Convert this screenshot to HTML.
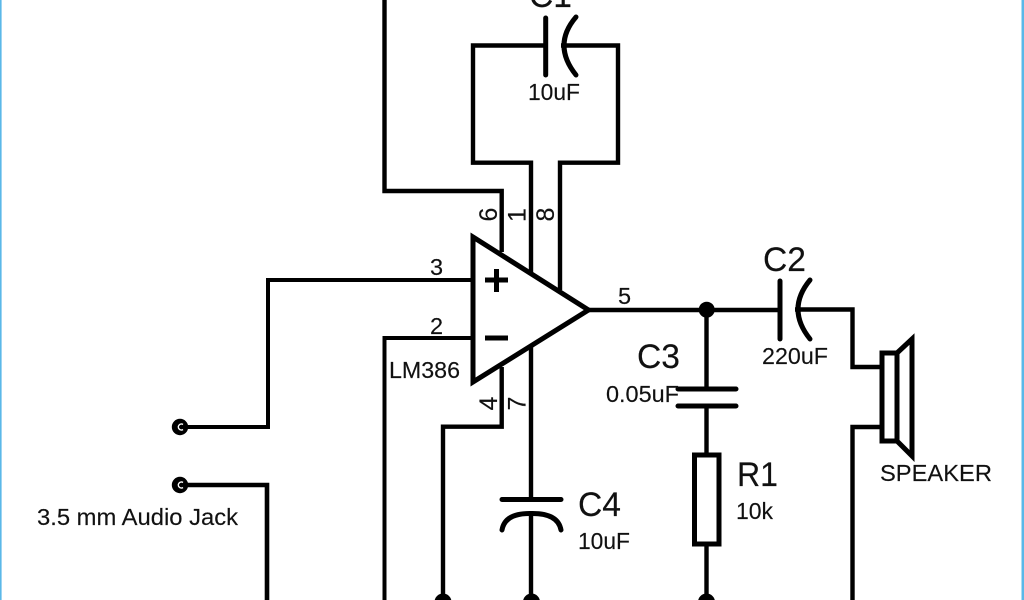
<!DOCTYPE html>
<html>
<head>
<meta charset="utf-8">
<style>
html,body{margin:0;padding:0;background:#fff;width:1024px;height:600px;overflow:hidden}
svg{display:block}
text{font-family:"Liberation Sans",sans-serif;fill:#111;font-size:23.5px;stroke:#111;stroke-width:.15}
.b{font-size:34px}
</style>
</head>
<body>
<svg width="1024" height="600" viewBox="0 0 1024 600" xmlns="http://www.w3.org/2000/svg">
<rect width="1024" height="600" fill="#fff"/>
<rect x="0" y="0" width="1.6" height="600" fill="#5bb8e8"/>
<rect x="1021.5" y="0" width="2.5" height="600" fill="#5bb8e8"/>
<g fill="none" stroke="#000" stroke-width="4.4" stroke-linejoin="miter" stroke-linecap="butt">
  <!-- pin 6 -->
  <path d="M384.500 0V191H501.700V252"/>
  <!-- C1 loop -->
  <path d="M546 45.500H473V162.700H531V272"/>
  <path d="M561 45.500H618V162.700H560V290"/>
  <path d="M545.700 18V75" stroke-linecap="round" stroke-width="5"/>
  <path d="M576 17Q552 45 576 75" stroke-linecap="round" stroke-width="5"/>
  <!-- opamp -->
  <path d="M473 237L588.500 310L473 382Z" stroke-width="5"/>
  <path d="M485 280H508M496.500 269V292" stroke-width="5"/>
  <path d="M485 338H508" stroke-width="5"/>
  <!-- pin 3 & jack -->
  <path d="M473 280H268V427H180" stroke-width="4"/>
  <path d="M180 485H267V600" stroke-width="4.600"/>
  <!-- pin 2 -->
  <path d="M473 338H384.500V600" stroke-width="4"/>
  <!-- pin 4 -->
  <path d="M501.700 367V426.700H443V600"/>
  <!-- pin 7, C4 -->
  <path d="M531 347V499M531 513V600"/>
  <path d="M502 499.500H561" stroke-linecap="round" stroke-width="5"/>
  <path d="M502 530Q505 513 531 513.500Q558 513 561 530" stroke-linecap="round" stroke-width="5"/>
  <!-- output -->
  <path d="M588 310H780"/>
  <path d="M780 281V339" stroke-linecap="round" stroke-width="5"/>
  <path d="M810 280Q786 309 810 339" stroke-linecap="round" stroke-width="5"/>
  <path d="M795 309.500H852.500V367H882"/>
  <path d="M882 427H852.500V600"/>
  <!-- speaker -->
  <rect x="882" y="353" width="15" height="88" stroke-width="5"/>
  <path d="M897 353L912 339V456L897 441" stroke-width="5"/>
  <!-- C3, R1 -->
  <path d="M706.500 310V388M706.500 406V455M706.500 544V600"/>
  <path d="M678 389H736M678 406H736" stroke-linecap="round" stroke-width="5"/>
  <rect x="694.500" y="455" width="24.500" height="89" stroke-width="5"/>
</g>
<circle cx="706.700" cy="309.700" r="8" fill="#000"/>
<circle cx="443" cy="602" r="8.500" fill="#000"/>
<circle cx="531.500" cy="602" r="8.500" fill="#000"/>
<circle cx="706.500" cy="602" r="8.500" fill="#000"/>
<circle cx="180" cy="427" r="8.200" fill="#000"/>
<circle cx="180" cy="485" r="8.200" fill="#000"/>
<path d="M183 424.500A3 3 0 1 0 183 429.500" fill="none" stroke="#fff" stroke-width="1.400"/>
<path d="M183 482.500A3 3 0 1 0 183 487.500" fill="none" stroke="#fff" stroke-width="1.400"/>

<text class="b" x="529" y="7" textLength="43" lengthAdjust="spacingAndGlyphs">C1</text>
<text x="528" y="100" textLength="52" lengthAdjust="spacingAndGlyphs">10uF</text>
<text class="b" x="763" y="271" textLength="43" lengthAdjust="spacingAndGlyphs">C2</text>
<text x="762" y="364" textLength="66" lengthAdjust="spacingAndGlyphs">220uF</text>
<text class="b" x="637" y="368" textLength="43" lengthAdjust="spacingAndGlyphs">C3</text>
<text x="606" y="402" textLength="73" lengthAdjust="spacingAndGlyphs">0.05uF</text>
<text class="b" x="737" y="486" textLength="41" lengthAdjust="spacingAndGlyphs">R1</text>
<text x="736" y="519" textLength="37" lengthAdjust="spacingAndGlyphs">10k</text>
<text class="b" x="578" y="516" textLength="43" lengthAdjust="spacingAndGlyphs">C4</text>
<text x="578" y="549" textLength="52" lengthAdjust="spacingAndGlyphs">10uF</text>
<text x="880" y="481" textLength="112" lengthAdjust="spacingAndGlyphs">SPEAKER</text>
<text x="37" y="525" textLength="201" lengthAdjust="spacingAndGlyphs">3.5 mm Audio Jack</text>
<text x="389" y="378" textLength="71" lengthAdjust="spacingAndGlyphs">LM386</text>
<text x="430" y="275">3</text>
<text x="430" y="334">2</text>
<text x="618" y="304">5</text>
<text text-anchor="middle" transform="translate(497 214.500) rotate(-90)" style="font-size:25px">6</text>
<text text-anchor="middle" transform="translate(525.500 215) rotate(-90)" style="font-size:25px">1</text>
<text text-anchor="middle" transform="translate(554 214.500) rotate(-90)" style="font-size:25px">8</text>
<text text-anchor="middle" transform="translate(497 403.500) rotate(-90)" style="font-size:25px">4</text>
<text text-anchor="middle" transform="translate(525.500 403.500) rotate(-90)" style="font-size:25px">7</text>
</svg>
</body>
</html>
